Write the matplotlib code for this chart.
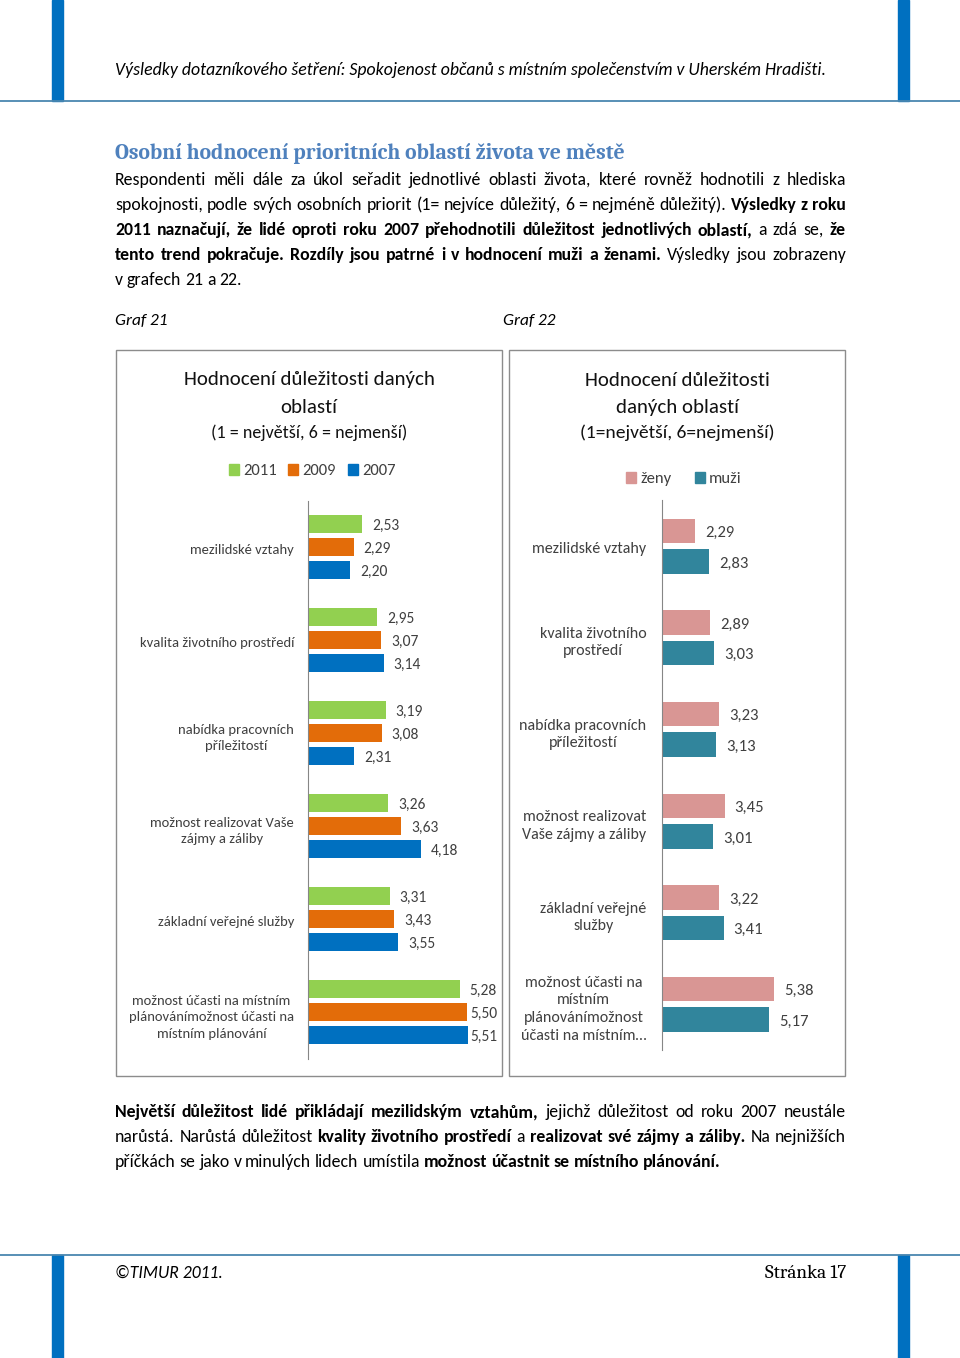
import matplotlib
matplotlib.use("Agg")
import matplotlib.pyplot as plt
import numpy as np
from matplotlib import font_manager as fm
from matplotlib.patches import Rectangle, Patch
from matplotlib.lines import Line2D


def pick(names):
    for n in names:
        try:
            fm.findfont(fm.FontProperties(family=n), fallback_to_default=False)
            return n
        except ValueError:
            pass
    return "DejaVu Sans"


SANS = pick(["Carlito", "Lato"])
SERIF = pick(["Caladea", "Liberation Serif"])
plt.rcParams["font.family"] = [SANS, "DejaVu Sans"]

# --- data -----------------------------------------------------------------
years = ["2011", "2009", "2007"]
year_colors = ["#92D050", "#E36C09", "#0070C0"]
cats1 = ["mezilidské vztahy",
         "kvalita životního prostředí",
         "nabídka pracovních\npříležitostí",
         "možnost realizovat Vaše\nzájmy a záliby",
         "základní veřejné služby",
         "možnost účasti na místním\nplánovánímožnost účasti na\nmístním plánování"]
v2011 = [2.53, 2.95, 3.19, 3.26, 3.31, 5.28]
v2009 = [2.29, 3.07, 3.08, 3.63, 3.43, 5.50]
v2007 = [2.20, 3.14, 2.31, 4.18, 3.55, 5.51]

sexes = ["ženy", "muži"]
sex_colors = ["#D99694", "#31859C"]
cats2 = ["mezilidské vztahy",
         "kvalita životního\nprostředí",
         "nabídka pracovních\npříležitostí",
         "možnost realizovat\nVaše zájmy a záliby",
         "základní veřejné\nslužby",
         "možnost účasti na\nmístním\nplánovánímožnost\núčasti na místním…"]
zeny = [2.29, 2.89, 3.23, 3.45, 3.22, 5.38]
muzi = [2.83, 3.03, 3.13, 3.01, 3.41, 5.17]

W, H = 960, 1358
fig = plt.figure(figsize=(W / 100, H / 100), dpi=100)


def fx(x):
    return x / W


def fy(y):
    return 1 - y / H


def ty(y):
    # text is centred on its full box, nudge down a little to sit like the page
    return fy(y + 2)


TXT = "#000000"
GREY = "#404040"
BODY = 12.8

# --- page frame ----------------------------------------------------------------
bar_c = "#0070C0"
rule_c = "#4A87B0"
for x in (52, 898):
    fig.add_artist(Rectangle((fx(x), fy(101)), 11 / W, 101 / H, color=bar_c, transform=fig.transFigure))
    fig.add_artist(Rectangle((fx(x), fy(1358)), 11 / W, (1358 - 1255) / H, color=bar_c, transform=fig.transFigure))
fig.add_artist(Line2D([0, 1], [fy(101), fy(101)], color=rule_c, lw=1.3, transform=fig.transFigure))
fig.add_artist(Line2D([0, 1], [fy(1255), fy(1255)], color=rule_c, lw=1.3, transform=fig.transFigure))

fig.text(fx(115), ty(68), "Výsledky dotazníkového šetření: Spokojenost občanů s místním společenstvím v Uherském Hradišti.",
         style="italic", fontsize=12.8, va="center", ha="left", color=TXT)
fig.text(fx(115), ty(1271), "©TIMUR 2011.", style="italic", fontsize=12.7, va="center", ha="left", color=TXT)
fig.text(fx(846), ty(1271), "Stránka 17", family=SERIF, fontsize=13.8, va="center", ha="right", color=TXT)

fig.text(fx(115), ty(152), "Osobní hodnocení prioritních oblastí života ve městě", family=SERIF,
         fontweight="bold", fontsize=15.6, color="#4F81BD", va="center", ha="left")

renderer = fig.canvas.get_renderer()


def text_line(y, parts, justify=True, x0=115, x1=846, size=BODY):
    words = []
    for txt, bold in parts:
        for w in txt.split():
            words.append((w, bold))
    objs = [fig.text(0, 0, w, fontsize=size, fontweight="bold" if b else "normal",
                     va="center", ha="left", color=TXT) for w, b in words]
    widths = [o.get_window_extent(renderer).width for o in objs]
    if justify and len(words) > 1:
        gap = (x1 - x0 - sum(widths)) / (len(words) - 1)
    else:
        gap = size * 0.3
    x = x0
    for o, wd in zip(objs, widths):
        o.set_position((fx(x), ty(y)))
        x += wd + gap


text_line(178, [("Respondenti měli dále za úkol seřadit jednotlivé oblasti života, které rovněž hodnotili z hlediska", False)])
text_line(203, [("spokojnosti, podle svých osobních priorit (1= nejvíce důležitý, 6 = nejméně důležitý).", False),
                ("Výsledky z roku", True)])
text_line(228, [("2011 naznačují, že lidé oproti roku 2007 přehodnotili důležitost jednotlivých oblastí,", True),
                ("a zdá se,", False), ("že", True)])
text_line(253, [("tento trend pokračuje. Rozdíly jsou patrné i v hodnocení muži a ženami.", True),
                ("Výsledky jsou zobrazeny", False)])
text_line(278, [("v grafech 21 a 22.", False)], justify=False)

fig.text(fx(115), ty(319), "Graf 21", style="italic", fontsize=12.5, va="center", ha="left", color=TXT)
fig.text(fx(503), ty(319), "Graf 22", style="italic", fontsize=12.5, va="center", ha="left", color=TXT)

text_line(1110, [("Největší důležitost lidé přikládají mezilidským vztahům,", True),
                 ("jejichž důležitost od roku 2007 neustále", False)])
text_line(1135, [("narůstá. Narůstá důležitost", False), ("kvality životního prostředí", True), ("a", False),
                 ("realizovat své zájmy a záliby.", True), ("Na nejnižších", False)])
text_line(1160, [("příčkách se jako v minulých lidech umístila", False),
                 ("možnost účastnit se místního plánování.", True)], justify=False)

# --- chart boxes -------------------------------------------------------------------
for x0, x1 in ((116, 502), (509, 845)):
    fig.add_artist(Rectangle((fx(x0), fy(1076)), (x1 - x0) / W, (1076 - 350) / H, fill=False,
                             ec="#8C8C8C", lw=1.0, transform=fig.transFigure))


def bar_axes(left, right, top, bottom):
    ax = fig.add_axes([fx(left), fy(bottom), (right - left) / W, (bottom - top) / H])
    ax.set_xlim(1, 6)
    ax.set_ylim(5.5, -0.5)
    for s in ("top", "right", "bottom"):
        ax.spines[s].set_visible(False)
    ax.spines["left"].set_color("#868686")
    ax.set_xticks([])
    ax.tick_params(axis="y", length=0)
    ax.patch.set_alpha(0)
    return ax


def label_bars(ax, bars, size, box_right):
    # like Excel: push a label inwards when it would run past the chart frame
    for b in bars:
        v = b.get_width()
        end_px = ax.transData.transform((v, 0))[0]
        off_px = min(10, box_right - 28 - end_px)
        ax.annotate(f"{v:.2f}".replace(".", ","), (v, b.get_y() + b.get_height() / 2),
                    xytext=(off_px * 0.72, -1.5), textcoords="offset points", va="center", ha="left",
                    fontsize=size, color=GREY)


# Graf 21
ax1 = bar_axes(308, 485, 500.5, 1058.5)
pos = np.arange(len(cats1))
for k, (vals, col) in enumerate(zip([v2011, v2009, v2007], year_colors)):
    bars = ax1.barh(pos + (k - 1) * 0.247, vals, height=0.194, color=col)
    label_bars(ax1, bars, 11.2, 498)
ax1.set_yticks(pos + 0.02)
ax1.set_yticklabels(cats1, fontsize=10.5, color=GREY, multialignment="center", linespacing=1.45)
ax1.tick_params(axis="y", pad=10)

TC = "#111111"
fig.text(fx(309), ty(378), "Hodnocení důležitosti daných", fontsize=15, ha="center", va="center", color=TC)
fig.text(fx(309), ty(405), "oblastí", fontsize=15, ha="center", va="center", color=TC)
fig.text(fx(309), ty(431), "(1 = největší, 6 = nejmenší)", fontsize=13, ha="center", va="center", color=TC)
fig.legend([Patch(color=c) for c in year_colors], years, loc="center", bbox_to_anchor=(fx(312), ty(469)),
           ncol=3, frameon=False, fontsize=12, handlelength=0.6, handleheight=0.6,
           handletextpad=0.25, columnspacing=0.7, labelcolor=GREY)

# Graf 22
ax2 = bar_axes(661.7, 790.3, 500, 1050)
pos = np.arange(len(cats2))
for k, (vals, col) in enumerate(zip([zeny, muzi], sex_colors)):
    off = -0.164 if k == 0 else 0.169
    bars = ax2.barh(pos + off, vals, height=0.267, color=col)
    label_bars(ax2, bars, 12, 841)
ax2.set_yticks(pos + 0.02)
ax2.set_yticklabels(cats2, fontsize=11.5, color=GREY, multialignment="center", linespacing=1.32)
ax2.tick_params(axis="y", pad=11)

fig.text(fx(677), ty(378), "Hodnocení důležitosti", fontsize=15, ha="center", va="center", color=TC)
fig.text(fx(677), ty(405), "daných oblastí", fontsize=15, ha="center", va="center", color=TC)
fig.text(fx(677), ty(431), "(1=největší, 6=nejmenší)", fontsize=14, ha="center", va="center", color=TC)
fig.legend([Patch(color=c) for c in sex_colors], sexes, loc="center", bbox_to_anchor=(fx(684), ty(477)),
           ncol=2, frameon=False, fontsize=12, handlelength=0.6, handleheight=0.6,
           handletextpad=0.25, columnspacing=1.4, labelcolor=GREY)

fig.savefig("out.png", dpi=100)
